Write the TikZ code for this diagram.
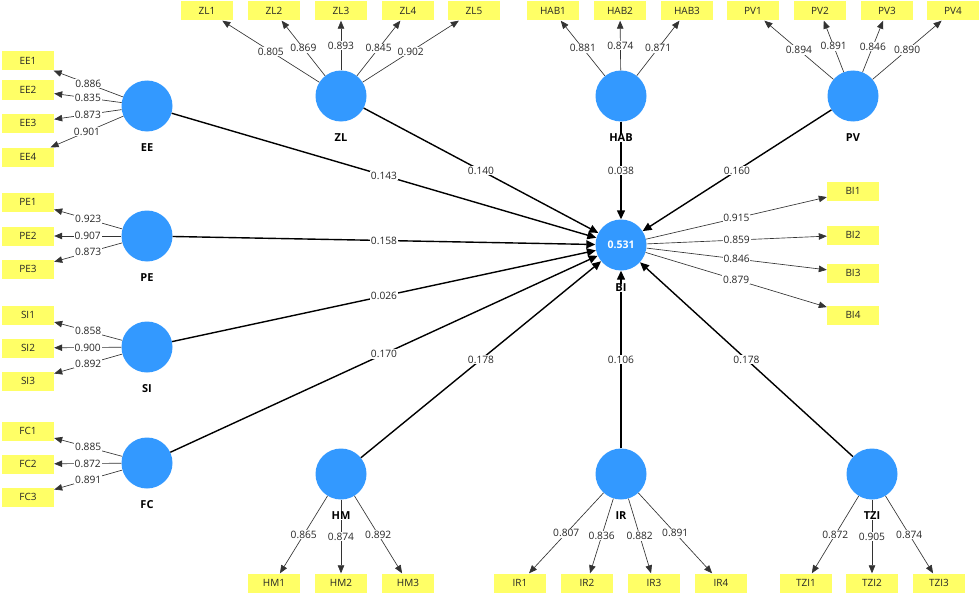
\documentclass[tikz,border=0pt]{standalone}
\usepackage{fontspec}
\setmainfont{Open Sans}
\usetikzlibrary{arrows.meta}
\definecolor{lv}{RGB}{51,153,255}
\definecolor{mv}{RGB}{255,255,102}
\begin{document}
\begin{tikzpicture}[x=1pt,y=-1pt,
 lat/.style={circle,fill=lv,minimum size=51pt,inner sep=0pt},
 ind/.style={rectangle,fill=mv,minimum width=52pt,minimum height=19pt,inner sep=0pt,font=\fontsize{10}{11}\selectfont,text=black!85},
 lbl/.style={font=\bfseries\fontsize{11}{12}\selectfont,fill=white,inner sep=0.5pt},
 ld/.style={draw=black!80,line width=0.65pt,-{Triangle[length=8pt,width=6.5pt]}},
 pth/.style={draw=black,line width=1.4pt,-{Triangle[length=9pt,width=8pt]}},
 num/.style={fill=white,inner sep=0.8pt,font=\fontsize{10.2}{11}\selectfont,text=black!85}
]
\useasboundingbox[fill=white] (0,0) rectangle (980,594);
% constructs
\node[lat] (EE) at (147,106) {};
\node[lat] (PE) at (147,236) {};
\node[lat] (SI) at (147,347) {};
\node[lat] (FC) at (147,463) {};
\node[lat] (ZL) at (341,96) {};
\node[lat] (HAB) at (621,96) {};
\node[lat] (PV) at (853,96) {};
\node[lat,text=white,font=\bfseries\fontsize{10.5}{11}\selectfont] (BI) at (621,245) {0.531};
\node[lat] (HM) at (341,474) {};
\node[lat] (IR) at (621,474) {};
\node[lat] (TZI) at (872,474) {};
% indicators
\foreach \n/\y in {EE1/61,EE2/90,EE3/123,EE4/157,PE1/202,PE2/236,PE3/269,SI1/315,SI2/348,SI3/381,FC1/431,FC2/464,FC3/497}
  \node[ind] (\n) at (28,\y) {\n};
\foreach \n/\x in {ZL1/207,ZL2/274,ZL3/341,ZL4/408,ZL5/474,HAB1/553,HAB2/620,HAB3/687,PV1/753,PV2/820,PV3/887,PV4/953}
  \node[ind] (\n) at (\x,11) {\n};
\foreach \n/\y in {BI1/191,BI2/235,BI3/273,BI4/315}
  \node[ind] (\n) at (853,\y) {\n};
\foreach \n/\x in {HM1/274,HM2/341,HM3/408,IR1/520,IR2/587,IR3/654,IR4/721,TZI1/806,TZI2/872,TZI3/939}
  \node[ind] (\n) at (\x,583) {\n};
% structural paths
\foreach \a/\v in {EE/0.143,ZL/0.140,HAB/0.038,PV/0.160,PE/0.158,SI/0.026,FC/0.170,HM/0.178,IR/0.106,TZI/0.178}
  \path[pth] (\a) -- node[num] {\v} (BI);
% loadings
\foreach \a/\i/\v in {EE/EE1/0.886,EE/EE2/0.835,EE/EE3/0.873,EE/EE4/0.901,
  PE/PE1/0.923,PE/PE2/0.907,PE/PE3/0.873,
  SI/SI1/0.858,SI/SI2/0.900,SI/SI3/0.892,
  FC/FC1/0.885,FC/FC2/0.872,FC/FC3/0.891,
  ZL/ZL1/0.805,ZL/ZL2/0.869,ZL/ZL3/0.893,ZL/ZL4/0.845,ZL/ZL5/0.902,
  HAB/HAB1/0.881,HAB/HAB2/0.874,HAB/HAB3/0.871,
  PV/PV1/0.894,PV/PV2/0.891,PV/PV3/0.846,PV/PV4/0.890,
  BI/BI1/0.915,BI/BI2/0.859,BI/BI3/0.846,BI/BI4/0.879,
  HM/HM1/0.865,HM/HM2/0.874,HM/HM3/0.892,
  IR/IR1/0.807,IR/IR2/0.836,IR/IR3/0.882,IR/IR4/0.891,
  TZI/TZI1/0.872,TZI/TZI2/0.905,TZI/TZI3/0.874}
  \path[ld] (\a) -- node[num] {\v} (\i);
% construct labels
\node[lbl] (EEl) at (147,148) {EE};
\node[lbl] (PEl) at (147,278) {PE};
\node[lbl] (SIl) at (147,389) {SI};
\node[lbl] (FCl) at (147,505) {FC};
\node[lbl] (ZLl) at (341,138) {ZL};
\node[lbl] (HABl) at (621,138) {HAB};
\node[lbl] (PVl) at (853,138) {PV};
\node[lbl] (BIl) at (621,288) {BI};
\node[lbl] (HMl) at (341,516) {HM};
\node[lbl] (IRl) at (621,516) {IR};
\node[lbl] (TZIl) at (872,516) {TZI};
\end{tikzpicture}
\end{document}
